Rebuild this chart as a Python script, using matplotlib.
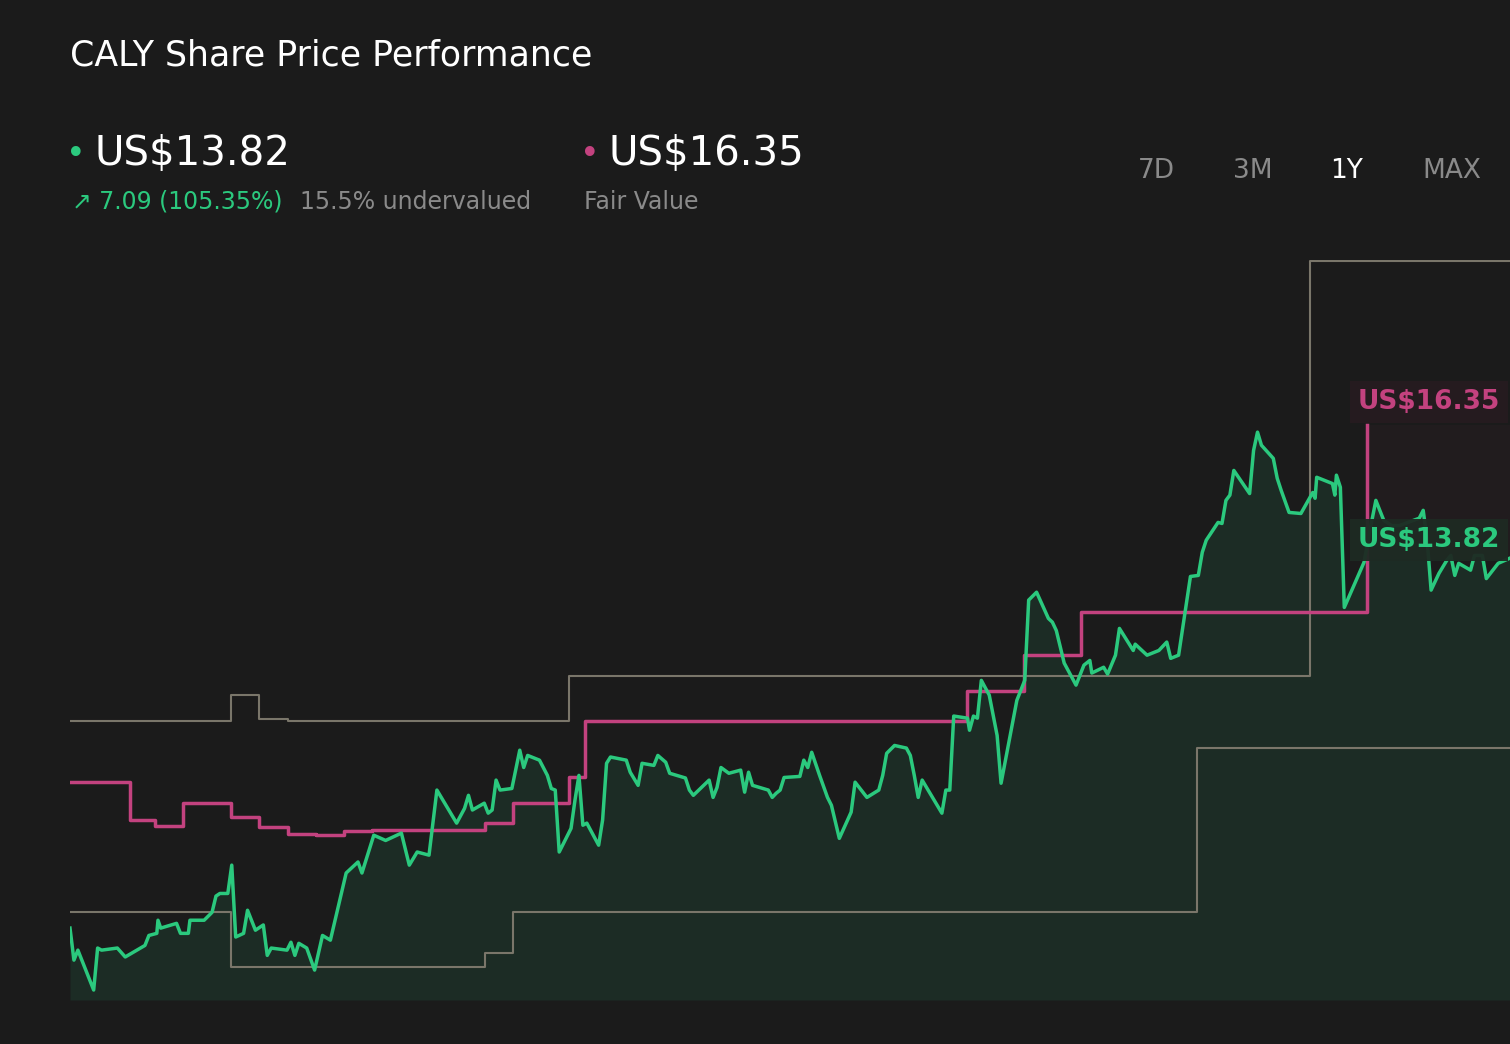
import matplotlib
matplotlib.use("Agg")
import matplotlib.pyplot as plt
import numpy as np

days = [0,1,2,6,7,8,12,14,19,20,22,22.3,23,27,28,30,30.4,34,36,37,38,40,41,42,44,45,47,49,50,51,55,56,57,58,60,62,64,66,70,73,74,77,80,84,86,88,91,93,98,100,101,102,105,106,107,108,109,112,114,115,116,119,121,122,123,124,127,128,129,130,131,134,135,136,137,141,142,144,145,148,149,151,152,156,157,158,162,163,164,165,167,170,171,172,173,177,178,179,180,181,185,186,187,188,190,192,193,195,198,199,202,205,206,207,209,212,213,214,215,216,221,222,223,224,227.5,228,229,230,231,233,235,236,240,242,243,245,248,249,250,252,255,257,258.5,259,262,263,265,266,269.5,270,273,276,278,279,281,284,286,287,288,291,292,293,294,295,299,300,301,302,305,306,307,309,312,315,315.6,316,320,320.6,321,322,323,328,330,331,333,335,337,342,343,344,345,347,349,350,351,352,355,356,358,359,362,365]
price = [6.77,6.16,6.35,5.59,6.39,6.35,6.39,6.22,6.44,6.63,6.67,6.92,6.77,6.86,6.67,6.67,6.92,6.92,7.07,7.38,7.43,7.43,7.97,6.60,6.67,7.11,6.73,6.83,6.25,6.39,6.35,6.50,6.25,6.48,6.39,5.97,6.63,6.54,7.82,8.03,7.82,8.54,8.44,8.58,7.97,8.22,8.16,9.40,8.77,9.05,9.30,9.02,9.15,8.96,9.02,9.59,9.40,9.43,10.16,9.83,10.06,9.97,9.68,9.43,9.40,8.22,8.67,9.21,9.68,8.73,8.77,8.35,8.83,9.91,10.03,9.97,9.74,9.49,9.91,9.87,10.06,9.93,9.72,9.63,9.40,9.30,9.59,9.26,9.45,9.83,9.72,9.78,9.36,9.74,9.49,9.40,9.26,9.34,9.40,9.64,9.66,9.97,9.83,10.12,9.68,9.26,9.11,8.48,8.98,9.55,9.26,9.40,9.68,10.10,10.25,10.20,10.06,9.68,9.26,9.59,8.96,9.40,9.40,10.81,10.77,10.54,10.81,10.77,11.49,11.21,10.44,9.53,11.11,11.49,13.02,13.17,12.67,12.60,12.44,11.82,11.40,11.78,11.87,11.63,11.74,11.61,11.97,12.48,12.06,12.18,11.97,12.06,12.22,11.91,11.97,13.47,13.49,13.93,14.16,14.50,14.48,14.92,15.02,15.49,15.05,15.87,16.22,15.97,15.72,15.34,15.11,14.69,14.67,15.07,14.96,15.36,15.24,15.02,15.40,15.17,12.88,13.74,14.54,14.92,14.54,14.44,14.44,14.58,14.73,14.16,13.21,13.53,13.78,13.87,13.49,13.72,13.59,13.87,13.87,13.43,13.72,13.82]

fv_days = [0,15.2,21.5,28.6,40.8,47.9,55.3,62.4,69.5,76.6,105.2,112.3,126.5,130.6,227.4,241.8,256.3,328.8]
fv_vals = [9.55,8.83,8.71,9.15,8.88,8.69,8.56,8.54,8.62,8.63,8.77,9.15,9.64,10.71,11.28,11.97,12.79,16.35]

up_days = [0,40.8,47.9,55.3,126.5,314.3,365]
up_vals = [10.71,11.22,10.75,10.71,11.57,19.49,19.49]
lo_days = [0,40.8,105.2,112.3,285.7,365]
lo_vals = [7.07,6.03,6.29,7.07,10.20,10.20]

BG = "#1b1b1b"; GREEN = "#2bc97e"; PINK = "#c3427f"; GREY = "#7a766a"
n = min(len(days), len(price))
days = np.array(days[:n]); price = np.array(price[:n])

fig = plt.figure(figsize=(15.10, 10.44), dpi=100, facecolor=BG)
ax = fig.add_axes([70/1510, 1-1000/1044, 1-70/1510, (1000-260)/1044])
ax.set_facecolor(BG)
ax.set_xlim(0, 365); ax.set_ylim(5.4, 19.5)
ax.axis("off")

ax.fill_between(days, price, 5.4, color=GREEN, alpha=0.10, lw=0)
ax.fill_between([fv_days[-1], 365], 13.8, fv_vals[-1], color=PINK, alpha=0.04, lw=0)
ax.step(up_days, up_vals, where="post", color=GREY, lw=1.5)
ax.step(lo_days, lo_vals, where="post", color=GREY, lw=1.5)
ax.step(fv_days, fv_vals, where="post", color=PINK, lw=2.5)
ax.plot(days, price, color=GREEN, lw=2.5)

ax.text(326.5, 16.79, "US$16.35", color=PINK, fontsize=19, fontweight="bold", ha="left", va="center",
        bbox=dict(boxstyle="square,pad=0.3", fc="#261c20", ec="none", alpha=0.95))
ax.text(326.5, 14.16, "US$13.82", color=GREEN, fontsize=19, fontweight="bold", ha="left", va="center",
        bbox=dict(boxstyle="square,pad=0.3", fc="#1e2a23", ec="none", alpha=0.95))

def T(x, y, s, **kw):
    fig.text(x/1510, 1-y/1044, s, **kw)
T(70, 56, "CALY Share Price Performance", color="white", fontsize=25, va="center")
T(66, 154, "•", color=GREEN, fontsize=24, va="center")
T(94, 154, "US$13.82", color="white", fontsize=29, va="center")
T(72, 202, "↗ 7.09 (105.35%)", color=GREEN, fontsize=17, va="center")
T(300, 202, "15.5% undervalued", color="#8a8a8a", fontsize=17, va="center")
T(580, 154, "•", color=PINK, fontsize=24, va="center")
T(608, 154, "US$16.35", color="white", fontsize=29, va="center")
T(584, 202, "Fair Value", color="#8a8a8a", fontsize=17, va="center")
for xx, s, c in [(1156, "7D", "#8a8a8a"), (1253, "3M", "#8a8a8a"), (1347, "1Y", "white"), (1452, "MAX", "#8a8a8a")]:
    T(xx, 171, s, color=c, fontsize=19, va="center", ha="center")

fig.savefig("out.png", dpi=100, facecolor=BG)
